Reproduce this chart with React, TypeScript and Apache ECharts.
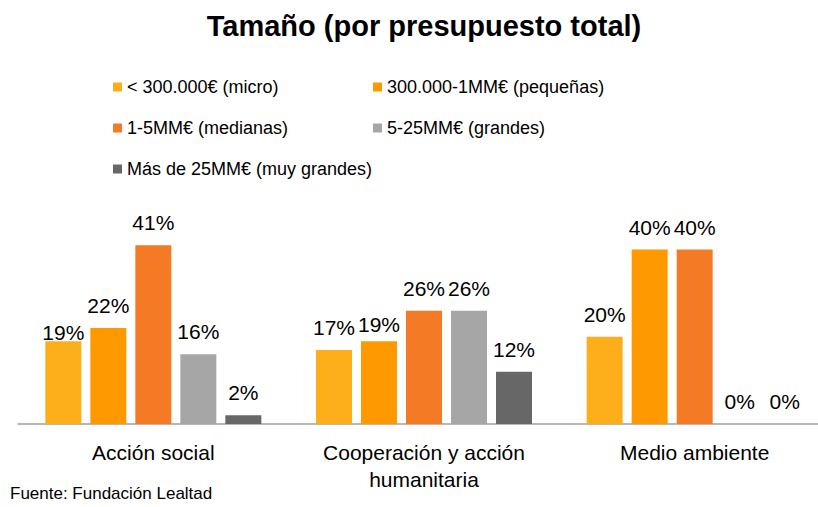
import React, { useEffect, useRef } from "react";
import * as echarts from "echarts";

const categories = ["Acción social", "Cooperación y acción\nhumanitaria", "Medio ambiente"];
const seriesNames = [
  "< 300.000€ (micro)",
  "300.000-1MM€ (pequeñas)",
  "1-5MM€ (medianas)",
  "5-25MM€ (grandes)",
  "Más de 25MM€ (muy grandes)",
];
const micro = [19, 17, 20];
const pequenas = [22, 19, 40];
const medianas = [41, 26, 40];
const grandes = [16, 26, 0];
const muyGrandes = [2, 12, 0];
const seriesValues = [micro, pequenas, medianas, grandes, muyGrandes];

const colors = ["#FDAF1B", "#FE9A00", "#F47A25", "#A6A6A6", "#676767"];
// label vertical nudges (px) for labels that sit closer to their bars
const labelNudge: number[][] = [
  [14, 0, 0],
  [0, 6, 0],
  [0, 0, 0],
  [0, 0, 0],
  [0, 0, 0],
];
const legendPos = [
  { left: 108, top: 73 },
  { left: 368, top: 73 },
  { left: 108, top: 114 },
  { left: 368, top: 114 },
  { left: 108, top: 155 },
];

const FONT = "'Liberation Sans', Arial, sans-serif";

export default function App() {
  const ref = useRef<HTMLDivElement>(null);
  useEffect(() => {
    if (!ref.current) return;
    const chart = echarts.init(ref.current, null, { renderer: "svg" });
    const series = seriesNames.map((name, i) => ({
      name,
      type: "bar",
      barWidth: 36,
      barGap: "25%",
      itemStyle: { color: colors[i] },
      label: {
        show: true,
        position: "top",
        distance: 12,
        formatter: "{c}%",
        color: "#000",
        fontFamily: FONT,
        fontSize: 21,
      },
      data: seriesValues[i].map((v, j) => ({
        value: v,
        label: { offset: [0, labelNudge[i][j]] },
      })),
    }));
    chart.setOption({
      animation: false,
      title: {
        text: "Tamaño (por presupuesto total)",
        left: 419,
        textAlign: "center",
        top: 6,
        textStyle: { fontFamily: FONT, fontWeight: "bold", fontSize: 29, color: "#000" },
      },
      legend: seriesNames.map((n, i) => ({
        data: [n],
        left: legendPos[i].left,
        top: legendPos[i].top,
        itemWidth: 9,
        itemHeight: 9,
        icon: "rect",
        selectedMode: false,
        textStyle: { fontFamily: FONT, fontSize: 18, color: "#000" },
      })),
      grid: { left: 18, width: 812, top: 206, bottom: 83, containLabel: false },
      xAxis: {
        type: "category",
        data: categories,
        axisLine: { show: true, lineStyle: { color: "#A0A0A0", width: 1.5 } },
        axisTick: { show: false },
        axisLabel: {
          margin: 15,
          fontFamily: FONT,
          fontSize: 21,
          lineHeight: 27,
          color: "#000",
        },
      },
      yAxis: {
        type: "value",
        min: 0,
        max: 50,
        show: false,
        splitLine: { show: false },
      },
      graphic: [
        {
          type: "text",
          left: 10,
          top: 485,
          style: { text: "Fuente: Fundación Lealtad", fontFamily: FONT, fontSize: 17, fill: "#000" },
        },
      ],
      series,
    });
    return () => chart.dispose();
  }, []);
  return (
    <div
      style={{ position: "absolute", left: 0, top: 0, width: 818, height: 507, overflow: "hidden" }}
    >
      <div ref={ref} style={{ width: 840, height: 507 }} />
    </div>
  );
}
